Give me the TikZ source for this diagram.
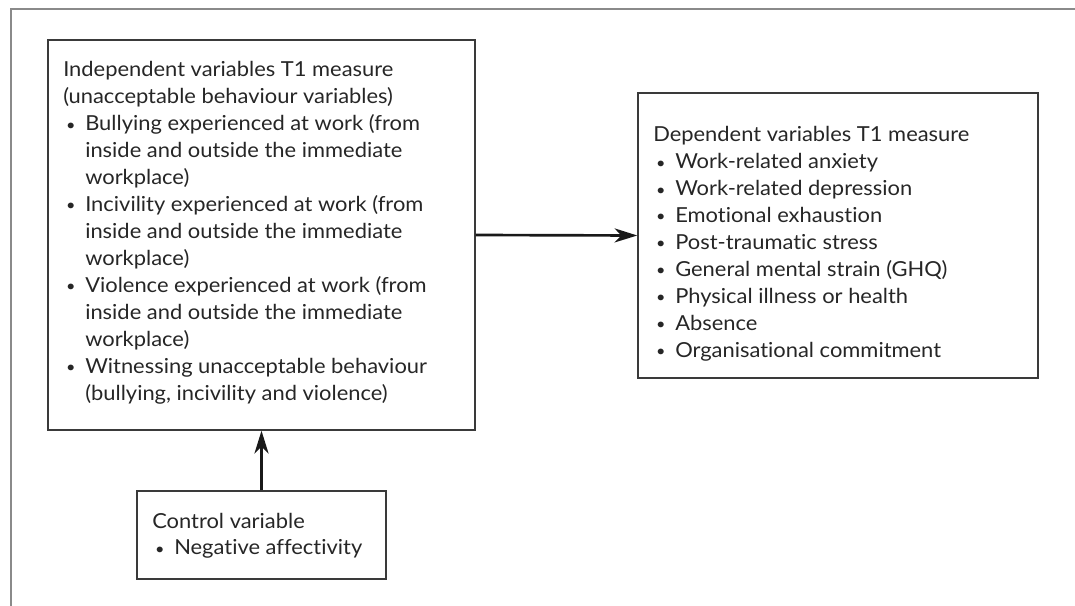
\documentclass[tikz,border=0pt]{standalone}
\usepackage{fontspec}
\setmainfont{Lato}[FakeStretch=1.06,Ligatures=NoCommon]
\usetikzlibrary{arrows.meta}
\definecolor{ink}{HTML}{262626}
\definecolor{boxline}{HTML}{3A3A3A}
\definecolor{framegray}{HTML}{8A8A8A}
\newcommand{\bulx}{\hbox to 16.5pt{\hspace{2.2pt}\raisebox{0.6pt}{\fontsize{11.5}{11.5}\selectfont\textbullet}\hfil}}
\newcommand{\indx}{\hspace*{16.5pt}}
\newcommand{\tline}[1]{\hbox{#1}}
\begin{document}
\begin{tikzpicture}[x=0.75pt,y=-0.75pt,
  box/.style={draw=boxline, line width=1.1pt, rectangle, inner sep=0pt},
  txt/.style={anchor=base west, inner sep=0pt, text=ink, font=\fontsize{15.5}{20.2}\selectfont},
  arr/.style={draw=black!90, line width=2pt, -{Stealth[length=17pt,width=10.5pt,inset=5pt]}},
  frame/.style={draw=framegray, line width=1.5pt}]
\useasboundingbox (0,0) rectangle (1075,606);
\draw[frame] (11,606) -- (11,9) -- (1075,9);
% boxes
\node[box, minimum width=427*0.75pt, minimum height=390*0.75pt] (indep) at (261.5,235) {};
\node[box, minimum width=400*0.75pt, minimum height=285*0.75pt] (dep) at (838,235.5) {};
\node[box, minimum width=249*0.75pt, minimum height=88*0.75pt] (ctrl) at (261.5,535) {};
% texts
\node[txt] (indeptext) at (63,77) {\vtop{\baselineskip=20.2pt
  \tline{Independent variables T1 measure}
  \tline{(unacceptable behaviour variables)}
  \tline{\bulx Bullying experienced at work (from}
  \tline{\indx inside and outside the immediate}
  \tline{\indx workplace)}
  \tline{\bulx Incivility experienced at work (from}
  \tline{\indx inside and outside the immediate}
  \tline{\indx workplace)}
  \tline{\bulx Violence experienced at work (from}
  \tline{\indx inside and outside the immediate}
  \tline{\indx workplace)}
  \tline{\bulx Witnessing unacceptable behaviour}
  \tline{\indx (bullying, incivility and violence)}}};
\node[txt] (deptext) at (653,142) {\vtop{\baselineskip=20.2pt
  \tline{Dependent variables T1 measure}
  \tline{\bulx Work-related anxiety}
  \tline{\bulx Work-related depression}
  \tline{\bulx Emotional exhaustion}
  \tline{\bulx Post-traumatic stress}
  \tline{\bulx General mental strain (GHQ)}
  \tline{\bulx Physical illness or health}
  \tline{\bulx Absence}
  \tline{\bulx Organisational commitment}}};
\node[txt] (ctrltext) at (152,528) {\vtop{\baselineskip=20.2pt
  \tline{Control variable}
  \tline{\bulx Negative affectivity}}};
% connectors
\draw[arr] (indep.east) -- (dep.west);
\draw[arr] (ctrl.north) -- (indep.south);
\end{tikzpicture}
\end{document}
